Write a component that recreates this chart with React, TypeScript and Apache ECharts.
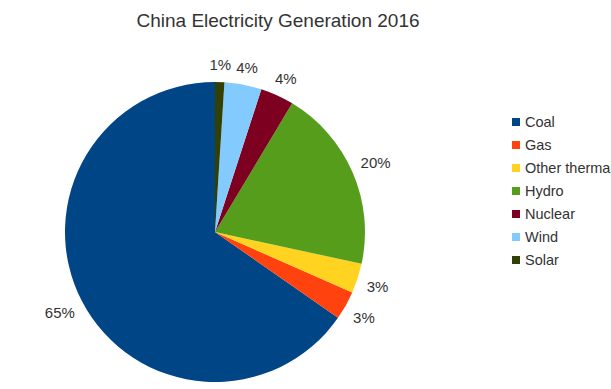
import React, { useEffect, useRef } from "react";
import * as echarts from "echarts";

const categories = ["Coal", "Gas", "Other thermal", "Hydro", "Nuclear", "Wind", "Solar"];
const shares = [65.3, 3.1, 3.2, 19.8, 3.6, 4.0, 1.0];
const colors = ["#004586", "#ff420e", "#ffd320", "#579d1c", "#7e0021", "#83caff", "#314004"];
const titleText = "China Electricity Generation 2016";

const FONT = "'Liberation Sans', Arial, sans-serif";
const CENTER = [215, 232];
const RADIUS = 150;

export default function App() {
  const ref = useRef<HTMLDivElement>(null);
  useEffect(() => {
    if (!ref.current) return;
    const chart = echarts.init(ref.current, undefined, { renderer: "svg" });
    const total = shares.reduce((a, b) => a + b, 0);
    const cum: number[] = [];
    let acc = 0;
    shares.forEach((v) => {
      cum.push(acc + v / 2);
      acc += v;
    });
    chart.setOption({
      animation: false,
      backgroundColor: "#ffffff",
      title: {
        text: titleText,
        left: 278,
        top: 11,
        textAlign: "center",
        padding: 0,
        textStyle: { fontFamily: FONT, fontSize: 19, fontWeight: "normal", color: "#333333" },
      },
      legend: {
        orient: "vertical",
        left: 512,
        top: 114,
        padding: 0,
        itemWidth: 8,
        itemHeight: 8,
        itemGap: 7,
        icon: "rect",
        data: categories,
        textStyle: { fontFamily: FONT, fontSize: 14.5, color: "#333333", lineHeight: 16 },
      },
      series: [
        {
          type: "pie",
          center: CENTER,
          radius: RADIUS,
          startAngle: 90,
          clockwise: false,
          avoidLabelOverlap: false,
          data: categories.map((c, i) => ({ name: c, value: shares[i], itemStyle: { color: colors[i] } })),
          label: {
            show: true,
            position: "outside",
            fontFamily: FONT,
            fontSize: 15,
            color: "#333333",
            formatter: (p: any) => Math.round(p.percent) + "%",
          },
          labelLine: { show: false, length: 5, length2: 0 },
          labelLayout: (p: any) => {
            const i = p.dataIndex;
            const ang = ((90 + (cum[i] / total) * 360) * Math.PI) / 180;
            const dx = Math.cos(ang);
            const dy = -Math.sin(ang);
            const R = RADIUS + 10;
            const w = p.labelRect.width;
            const h = p.labelRect.height;
            const ax = CENTER[0] + dx * R;
            const ay = CENTER[1] + dy * R;
            const fy = Math.max(-1, Math.min(1, dy * 2));
            return {
              x: ax + (dx * w) / 2,
              y: ay + (fy * h) / 2,
              align: "center",
              verticalAlign: "middle",
            };
          },
          itemStyle: { borderWidth: 0 },
          emphasis: { disabled: true },
        },
      ],
    });
    return () => chart.dispose();
  }, []);
  return <div ref={ref} style={{ position: "fixed", left: 0, top: 0, width: 611, height: 389 }} />;
}
